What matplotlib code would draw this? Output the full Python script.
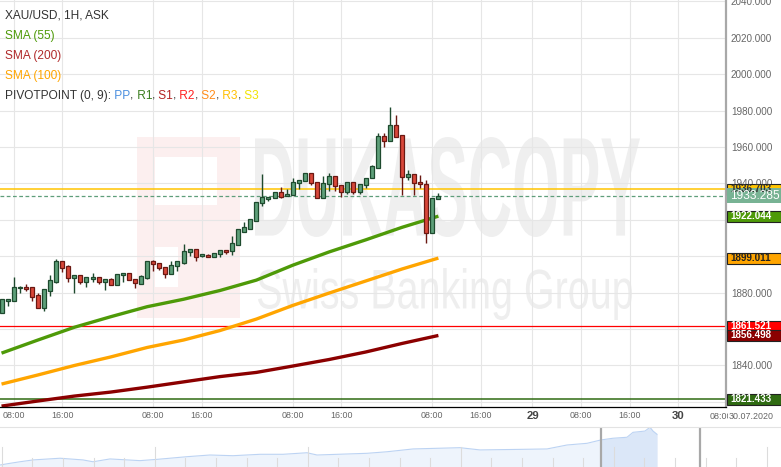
import numpy as np
import matplotlib.pyplot as plt
import matplotlib.transforms as mtransforms
from matplotlib.patches import Rectangle, PathPatch
from matplotlib.textpath import TextPath
from matplotlib.font_manager import FontProperties

plt.rcParams['font.family'] = ['Liberation Sans', 'DejaVu Sans']

# XAU/USD hourly candles (bar index 0..72)
opens = [1868.8, 1875.4, 1875.4, 1882.6, 1883.1, 1883.1, 1878.7, 1871.6, 1880.9, 1885.9,
         1897.4, 1894.7, 1888.1, 1889.7, 1885.9, 1887.5, 1888.6, 1885.9, 1887.5, 1884.2,
         1889.7, 1890.8, 1887.5, 1884.8, 1888.1, 1897.4, 1896.3, 1894.1, 1890.3, 1894.7,
         1896.3, 1902.4, 1904.0, 1900.2, 1900.9, 1899.6, 1901.3, 1903.5, 1902.9, 1906.2,
         1913.4, 1915.0, 1919.4, 1929.3, 1931.5, 1932.0, 1935.3, 1933.1, 1933.7, 1940.3,
         1941.4, 1945.8, 1940.8, 1932.0, 1939.7, 1944.1, 1939.2, 1935.3, 1940.8, 1935.3,
         1939.2, 1943.0, 1948.5, 1966.1, 1963.4, 1972.1, 1966.6, 1943.6, 1945.2, 1940.8,
         1939.7, 1912.8, 1931.5]
highs = [1876.5, 1876.5, 1888.6, 1883.7, 1884.8, 1883.1, 1879.8, 1882.0, 1889.7, 1898.5,
         1897.4, 1895.2, 1889.7, 1889.7, 1888.6, 1890.8, 1888.6, 1887.5, 1888.1, 1890.3,
         1890.8, 1890.8, 1887.5, 1889.7, 1897.4, 1898.0, 1896.3, 1894.1, 1897.4, 1897.4,
         1906.8, 1904.0, 1904.0, 1901.5, 1901.3, 1901.8, 1903.5, 1903.5, 1911.2, 1915.0,
         1918.8, 1920.5, 1929.8, 1945.2, 1932.6, 1935.3, 1938.1, 1937.0, 1943.0, 1941.9,
         1945.8, 1945.8, 1940.8, 1944.1, 1945.8, 1944.1, 1939.2, 1940.8, 1940.8, 1939.7,
         1943.0, 1950.2, 1967.7, 1967.7, 1982.0, 1977.6, 1966.6, 1947.4, 1945.2, 1944.7,
         1941.9, 1932.0, 1934.8]
lows = [1868.8, 1872.7, 1875.4, 1879.8, 1880.9, 1875.4, 1871.6, 1869.9, 1878.2, 1885.3,
        1891.4, 1885.9, 1879.8, 1884.8, 1883.1, 1885.9, 1884.8, 1881.5, 1884.2, 1884.2,
        1885.9, 1887.0, 1882.6, 1884.8, 1887.5, 1891.9, 1892.5, 1888.1, 1890.3, 1891.9,
        1895.8, 1900.2, 1897.4, 1899.6, 1899.6, 1899.6, 1899.6, 1901.3, 1900.7, 1906.2,
        1913.4, 1915.0, 1919.4, 1927.6, 1930.4, 1932.0, 1932.0, 1933.1, 1933.7, 1937.0,
        1941.4, 1939.2, 1932.0, 1932.0, 1935.9, 1935.9, 1932.6, 1934.2, 1934.2, 1934.2,
        1937.5, 1943.0, 1948.5, 1960.1, 1963.4, 1965.5, 1933.7, 1941.9, 1933.7, 1937.5,
        1907.3, 1912.8, 1931.5]
closes = [1876.5, 1876.5, 1883.1, 1883.0, 1882.0, 1877.6, 1871.6, 1882.0, 1887.0, 1897.4,
          1893.6, 1888.1, 1889.7, 1885.9, 1888.6, 1888.6, 1885.9, 1887.5, 1884.2, 1890.3,
          1890.8, 1887.0, 1885.3, 1889.2, 1897.4, 1895.8, 1893.6, 1890.3, 1895.2, 1897.4,
          1902.9, 1904.0, 1899.6, 1901.3, 1899.6, 1901.8, 1903.5, 1902.4, 1907.3, 1915.0,
          1916.1, 1920.5, 1929.8, 1932.6, 1932.6, 1935.3, 1932.6, 1934.2, 1940.8, 1941.9,
          1945.8, 1940.3, 1932.0, 1940.3, 1944.1, 1938.6, 1935.3, 1940.8, 1935.3, 1939.7,
          1943.0, 1949.6, 1966.1, 1963.4, 1972.1, 1965.5, 1943.6, 1945.2, 1940.3, 1939.7,
          1912.8, 1932.0, 1933.3]

# moving averages, sampled every 6 bars
ma_bars = [0, 6, 12, 18, 24, 30, 36, 42, 48, 54, 60, 66, 72]
sma55 = [1846.8, 1854.0, 1861.0, 1866.8, 1872.3, 1876.4, 1881.2, 1886.9, 1895.1, 1902.4,
         1909.0, 1915.9, 1922.044]
sma100 = [1829.8, 1834.8, 1840.0, 1844.7, 1849.9, 1854.0, 1859.2, 1865.5, 1873.0, 1879.8,
          1886.4, 1893.0, 1899.011]
sma200 = [1817.7, 1820.5, 1823.2, 1825.4, 1828.1, 1831.0, 1833.9, 1836.2, 1839.7, 1843.3,
          1847.4, 1852.1, 1856.498]

pivot_r3 = 1936.703
pivot_r2 = 1861.521
pivot_r1 = 1821.433
last_price = 1933.285

tick_pos = [2, 10, 25, 33, 48, 56, 71, 79, 87.5, 95.5, 103.5, 111.5]
tick_labels = ['08:00', '16:00', '08:00', '16:00', '08:00', '16:00', '08:00', '16:00',
               '29', '08:00', '16:00', '30']
price_ticks = [1840, 1880, 1940, 1960, 1980, 2000, 2020, 2040]

# overview navigator (time index, price)
nav_t = [0, 10, 20, 33, 60, 83, 93, 110, 140, 157, 187, 210, 233, 260, 283, 307, 317, 367,
         387, 413, 460, 480, 520, 547, 567, 587, 601, 613, 627, 633, 645, 650, 653, 657]
nav_v = [1710, 1722, 1733, 1746, 1758, 1746, 1733, 1753, 1741, 1750, 1769, 1781, 1776, 1786,
         1786, 1797, 1781, 1793, 1804, 1824, 1833, 1817, 1821, 1824, 1852, 1864, 1888, 1900,
         1907, 1942, 1951, 1978, 1951, 1928]

W, H = 781, 467
fig = plt.figure(figsize=(W / 100, H / 100), dpi=100)

# background layer for the watermark
bg = fig.add_axes([0, 0, 1, 1], zorder=-1)
bg.set_xlim(0, W)
bg.set_ylim(H, 0)
bg.axis('off')


def fit_text(s, x0, x1, ytop, ybot, color, weight='normal'):
    tp = TextPath((0, 0), s, size=1, prop=FontProperties(family='Liberation Sans', weight=weight))
    bb = tp.get_extents()
    tr = (mtransforms.Affine2D().translate(-bb.x0, -bb.y0)
          .scale((x1 - x0) / bb.width, -(ybot - ytop) / bb.height)
          .translate(x0, ybot) + bg.transData)
    bg.add_patch(PathPatch(tp, transform=tr, fc=color, ec='none'))


bg.add_patch(Rectangle((137, 137), 103, 181, fc='#fcefef', ec='none'))
bg.add_patch(Rectangle((155, 157), 62, 48, fc='white', ec='none'))
bg.add_patch(Rectangle((155, 247), 23, 40, fc='white', ec='none'))
fit_text('DUKASCOPY', 255, 640, 137, 237, '#efefef', 'bold')
fit_text('Swiss Banking Group', 258, 632, 268, 320, '#eeeeee')

# main chart
ax = fig.add_axes([0, 60 / H, 726 / W, 407 / H])
ax.patch.set_alpha(0)
ax.set_xlim(-0.25, 119.4)
ax.set_ylim(1817.2, 2040.8)

ax.axhline(pivot_r3, color='#ffc400', lw=1.1, zorder=1.5)
ax.axhline(pivot_r2, color='#ff0000', lw=0.9, zorder=1.5)
ax.axhline(pivot_r1, color='#2f6b12', lw=1.1, zorder=1.5)
ax.axhline(last_price, color='#5f9e7b', lw=0.9, ls=(0, (3, 2)), zorder=1.6)

ax.plot(ma_bars, sma200, color='#8b0000', lw=2.4, zorder=2, solid_capstyle='butt')
ax.plot(ma_bars, sma100, color='#ffa500', lw=2.4, zorder=2, solid_capstyle='butt')
ax.plot(ma_bars, sma55, color='#4e9a08', lw=2.4, zorder=2, solid_capstyle='butt')

o = np.array(opens)
c = np.array(closes)
bars = np.arange(len(o))
up = c >= o
fill = np.where(up, '#5e9f79', '#d8473a')
edge = np.where(up, '#1e4a2e', '#6a1812')
ax.vlines(bars, lows, highs, colors=edge, lw=1.0, zorder=3)
body = np.maximum(np.abs(c - o), 0.6)
ax.bar(bars, body, bottom=np.minimum(o, c), width=0.66, color=fill,
       edgecolor=edge, linewidth=0.9, zorder=4)

# horizontal grid every 20, vertical grid at the time ticks
for gy in range(1820, 2041, 20):
    ax.axhline(gy, color='#e6e6e6', lw=0.8, zorder=0.5)
ax.grid(True, axis='x', color='#e6e6e6', lw=0.8)
ax.set_axisbelow(True)
for s in ('top', 'left'):
    ax.spines[s].set_visible(False)
ax.spines['right'].set_color('#a8a8a8')
ax.spines['right'].set_linewidth(1.6)
ax.spines['bottom'].set_color('black')
ax.spines['bottom'].set_linewidth(0.9)

ax.yaxis.tick_right()
ax.set_yticks(price_ticks, [f'{v:.3f}' for v in price_ticks])
ax.tick_params(axis='y', length=0, pad=3.5, labelsize=7.1, labelcolor='#666666')
ax.set_xticks(tick_pos, tick_labels)
ax.tick_params(axis='x', length=0, pad=3.2, labelsize=6.4, labelcolor='#666666')
for lbl in ax.get_xticklabels():
    if lbl.get_text() in ('29', '30'):
        lbl.set_fontweight('bold')
        lbl.set_fontsize(8.2)
        lbl.set_color('#444444')

# price boxes on the right axis
tr = mtransforms.blended_transform_factory(ax.transAxes, ax.transData)
bx1 = W / 726
boxes = [
    (pivot_r3, '#ffc400', '#333333', '#222222', 6.0, 7.1),
    (last_price, '#78b394', 'white', 'none', 8.2, 8.6),
    (sma55[-1], '#4e9a08', 'white', '#222222', 6.0, 7.1),
    (sma100[-1], '#ffa500', '#222222', '#222222', 6.0, 7.1),
    (pivot_r2, '#ff0000', 'white', '#222222', 6.0, 7.1),
    (sma200[-1], '#8b0000', 'white', '#222222', 6.0, 7.1),
    (pivot_r1, '#2f6b12', 'white', '#222222', 6.0, 7.1),
]
for val, fc, tc, ec, h, fs in boxes:
    ax.add_patch(Rectangle((1.001, val - h / 2), bx1 - 1.001, h, transform=tr, fc=fc,
                           ec=ec, lw=0.8, clip_on=False, zorder=6))
    ax.text(730.5 / 726, val, f'{val:.3f}', transform=tr, va='center', ha='left',
            fontsize=fs, color=tc, fontweight='bold' if fs < 8 else 'normal',
            clip_on=False, zorder=7)

# overlay for legend and extra labels
px = fig.add_axes([0, 0, 1, 1], zorder=10)
px.patch.set_alpha(0)
px.set_xlim(0, W)
px.set_ylim(H, 0)
px.axis('off')

fs = 8.6
px.text(5, 15, 'XAU/USD, 1H, ASK', fontsize=fs, color='#333333', va='center')
px.text(5, 36, 'SMA (55)', fontsize=fs, color='#4e9a08', va='center')
px.text(5, 56, 'SMA (200)', fontsize=fs, color='#b02a2a', va='center')
px.text(5, 76, 'SMA (100)', fontsize=fs, color='#ffa500', va='center')
prev = px.text(5, 96, 'PIVOTPOINT (0, 9):', fontsize=fs, color='#333333', va='center')
pieces = [(' PP', '#4a8fe0'), (',', '#333333'), (' R1', '#3a7d1e'), (',', '#333333'),
          (' S1', '#b22222'), (',', '#333333'), (' R2', '#ff2020'), (',', '#333333'),
          (' S2', '#ff8c1a'), (',', '#333333'), (' R3', '#ffc000'), (',', '#333333'),
          (' S3', '#f2e400')]
for s, col in pieces:
    prev = px.annotate(s, xy=(1, 0), xycoords=prev, ha='left', va='bottom',
                       fontsize=fs, color=col)

px.text(721, 416.7, '08:00', ha='center', va='center', fontsize=6.4, color='#666666')
px.text(728.5, 416.7, '30.07.2020', ha='left', va='center', fontsize=6.4, color='#666666',
        bbox=dict(fc='white', ec='none', pad=0.3))

# navigator
nav = fig.add_axes([0, 0, 1, 40 / H])
nav.set_xlim(0, W)
nav.set_ylim(1695.8, 1979.8)
nav.fill_between(nav_t, nav_v, 1695.8, color='#eef4fc', lw=0)
tsel = np.array(nav_t)
nav.fill_between(nav_t, nav_v, 1695.8, where=tsel >= 601, color='#dbe7f8', lw=0)
nav.plot(nav_t, nav_v, color='#bcd3f3', lw=0.8)
for k in range(26):
    gx = 1.7 + 30.6 * k
    nav.axvline(gx, ymin=0, ymax=0.5 if k % 5 == 0 else 0.225, color='#dcdcdc', lw=0.8)
nav.axvline(601, color='#a8a8a8', lw=1.6)
nav.axvline(700, color='#a8a8a8', lw=1.6)
for s in ('left', 'right', 'bottom'):
    nav.spines[s].set_visible(False)
nav.spines['top'].set_color('#e3e3e3')
nav.set_xticks([])
nav.set_yticks([])

fig.savefig('out.png', dpi=100)
